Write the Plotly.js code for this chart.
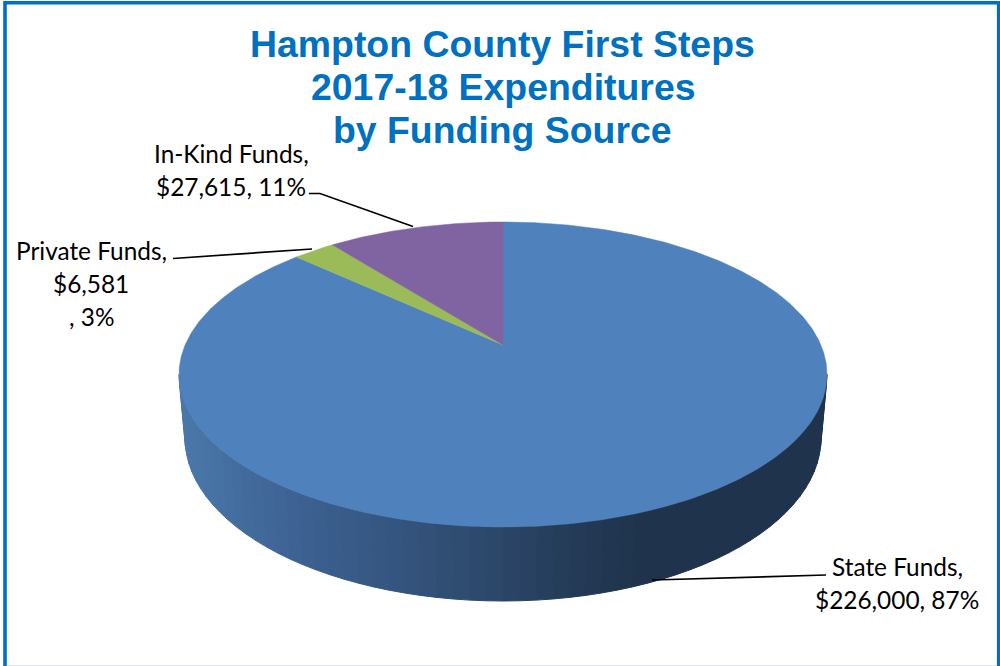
<!DOCTYPE html>
<html>
<head>
<meta charset="utf-8">
<script src="https://cdn.plot.ly/plotly-3.0.1.min.js"></script>
<style>html,body{margin:0;padding:0;background:#fff;overflow:hidden}#chart{width:1000px;height:666px}</style>
</head>
<body>
<div id="chart"></div>
<script>
// Data
var categories = ["State Funds", "Private Funds", "In-Kind Funds"];
var amounts = [226000, 6581, 27615];
var sliceColors = ["#4F81BD", "#9BBB59", "#8064A2"];
var labelLines = ["State Funds,", "$226,000, 87%", "Private Funds,", "$6,581", ", 3%", "In-Kind Funds,", "$27,615, 11%"];
var labelLineX = [897, 897, 91, 91, 91, 231, 231];
var labelLineY = [566.5, 599.5, 250, 283, 316.5, 153, 186];
var titleLines = ["Hampton County First Steps", "2017-18 Expenditures", "by Funding Source"];
var titleLineY = [44, 87, 130];

// Pie geometry (perspective projection of a disc), in page pixels
var cx = 503, apexY = 345, persp = 0.1934, topA = 146.8, topB = 317.9;
var rimTop = {cy: 374.5, rx: 324, ry: 152.5};
var rimBottom = {cy: 438, rx: 318, ry: 163};

function project(phi) {
  var X = Math.sin(phi), Y = Math.cos(phi), d = 1 + persp * Y;
  return [cx + topB * X / d, apexY - topA * Y / d];
}
function lerp(a, b, f) { return a + (b - a) * f; }
var shadeStops = [[180, [74,120,170]], [300, [60,97,145]], [400, [52,84,126]], [500, [43,70,104]], [580, [36,58,86]], [640, [31,51,76]], [830, [31,51,76]]];
function shade(x) {
  for (var i = 1; i < shadeStops.length; i++) {
    if (x <= shadeStops[i][0]) {
      var a = shadeStops[i-1], b = shadeStops[i], f = Math.max(0, (x - a[0]) / (b[0] - a[0]));
      return "rgb(" + [0,1,2].map(function(k){return Math.round(lerp(a[1][k], b[1][k], f));}).join(",") + ")";
    }
  }
  return "rgb(31,51,76)";
}

var traces = [];

// Extruded side as vertical shaded bands
var bandStep = 3 * Math.PI / 180, halfSweep = Math.PI / 2;
for (var t = -halfSweep; t < halfSweep - 1e-6; t += bandStep) {
  var t2 = Math.min(t + bandStep, halfSweep);
  var xs = [], ys = [];
  [t, t2].forEach(function (a) { xs.push(cx + rimTop.rx * Math.sin(a)); ys.push(rimTop.cy + rimTop.ry * Math.cos(a)); });
  [t2, t].forEach(function (a) { xs.push(cx + rimBottom.rx * Math.sin(a)); ys.push(rimBottom.cy + rimBottom.ry * Math.cos(a)); });
  xs.push(xs[0]); ys.push(ys[0]);
  var c = shade(cx + rimTop.rx * Math.sin((t + t2) / 2));
  traces.push({type: "scatter", mode: "lines", x: xs, y: ys, fill: "toself", fillcolor: c,
    line: {color: c, width: 1}, hoverinfo: "skip", showlegend: false});
}

// Top face: one sector per category, sized by its amount, clockwise from the top
var total = amounts.reduce(function (s, v) { return s + v; }, 0);
var start = 0;
amounts.forEach(function (v, i) {
  var sweep = v / total * 2 * Math.PI, n = Math.max(8, Math.round(sweep * 120));
  var xs = [cx], ys = [apexY];
  for (var j = 0; j <= n; j++) {
    var p = project(start + sweep * j / n);
    xs.push(p[0]); ys.push(p[1]);
  }
  xs.push(cx); ys.push(apexY);
  traces.push({type: "scatter", mode: "lines", name: categories[i], x: xs, y: ys, fill: "toself",
    fillcolor: sliceColors[i], line: {color: sliceColors[i], width: 0.5}, hoverinfo: "skip", showlegend: false});
  start += sweep;
});

var annotations = labelLines.map(function (txt, i) {
  return {xref: "x", yref: "y", x: labelLineX[i], y: labelLineY[i], text: txt, showarrow: false,
    xanchor: "center", yanchor: "middle", align: "center",
    font: {family: "Lato, sans-serif", size: 24.4, color: "#000000"}};
}).concat(titleLines.map(function (txt, i) {
  return {xref: "x", yref: "y", x: 502.5, y: titleLineY[i], text: txt, showarrow: false,
    xanchor: "center", yanchor: "middle", align: "center",
    font: {family: "Liberation Sans, Arial, sans-serif", size: 37.4, color: "#0070C0", weight: 700}};
}));

function leader(pts) {
  return {type: "path", xref: "x", yref: "y", path: "M" + pts.map(function (p) { return p.join(","); }).join("L"),
    line: {color: "#000000", width: 1.7}, layer: "above"};
}
var shapes = [
  leader([[826,575],[652,580]]),
  leader([[173,258.5],[312,249]]),
  leader([[309,193.5],[320,193.5],[413,226.5]]),
  {type: "rect", xref: "x", yref: "y", x0: 5, y0: 2.7, x1: 998.7, y1: 670, line: {color: "#0070C0", width: 3.6}, fillcolor: "rgba(0,0,0,0)", layer: "above"},
  {type: "line", xref: "x", yref: "y", x0: 7, x1: 997, y0: 665.5, y1: 665.5, line: {color: "#DCE9F4", width: 1}, layer: "above"}
];

var layout = {
  width: 1000, height: 666,
  margin: {l: 0, r: 0, t: 0, b: 0},
  paper_bgcolor: "#ffffff", plot_bgcolor: "#ffffff",
  showlegend: false,
  xaxis: {range: [0, 1000], visible: false, fixedrange: true},
  yaxis: {range: [666, 0], visible: false, fixedrange: true},
  annotations: annotations,
  shapes: shapes
};
Plotly.newPlot("chart", traces, layout, {displayModeBar: false, staticPlot: true});
</script>
</body>
</html>
